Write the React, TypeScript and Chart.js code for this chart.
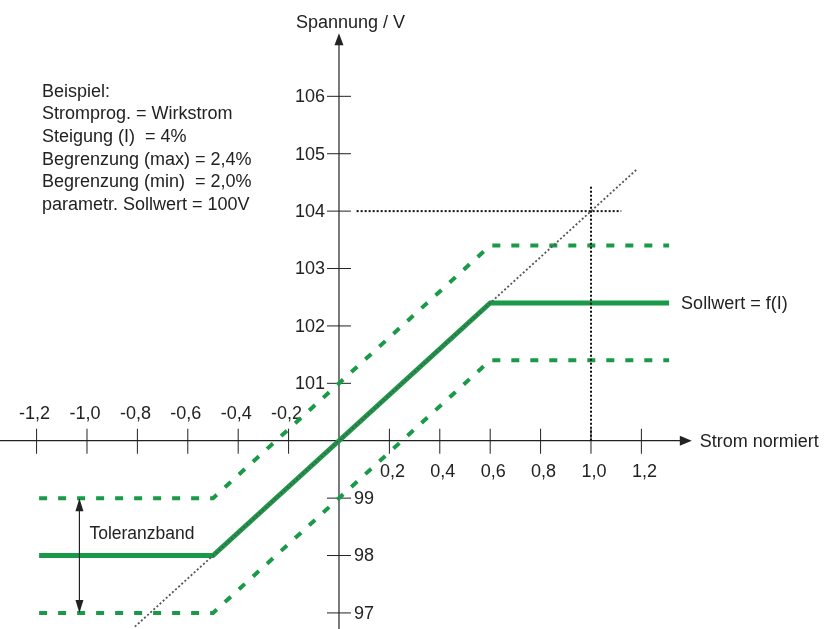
import React, { useEffect, useRef } from "react";
import { Chart, registerables } from "chart.js";

Chart.register(...registerables);

// ---- data ----
const xTickValues = [-1.2, -1.0, -0.8, -0.6, -0.4, -0.2, 0.2, 0.4, 0.6, 0.8, 1.0, 1.2];
const yTickValues = [97, 98, 99, 101, 102, 103, 104, 105, 106];

const bandX = [-1.19, -0.5, 0.6, 1.31];
const sollwertY = [98, 98, 102.4, 102.4];
const upperBandY = [99, 99, 103.4, 103.4];
const lowerBandY = [97, 97, 101.4, 101.4];

const diagonalX = [-0.81, 1.18];
const diagonalY = [96.76, 104.72];

const refHorizontalX = [0.07, 1.12];
const refHorizontalY = [104, 104];
const refVerticalX = [1.0, 1.0];
const refVerticalY = [100, 104.45];

const toleranceArrowX = -1.03;
const toleranceArrowY = [99, 97];

const infoLines = [
  "Beispiel:",
  "Stromprog. = Wirkstrom",
  "Steigung (I)  = 4%",
  "Begrenzung (max) = 2,4%",
  "Begrenzung (min)  = 2,0%",
  "parametr. Sollwert = 100V",
];

const xAxisTitle = "Strom normiert";
const yAxisTitle = "Spannung / V";
const sollwertLabel = "Sollwert = f(I)";
const toleranceLabel = "Toleranzband";

const X_MIN = -1.3452;
const X_MAX = 1.9405;
const Y_MIN = 96.72;
const Y_MAX = 107.678;
const X_AXIS_END = 1.4;
const Y_AXIS_END = 107.1;

const GREEN = "#1a9a48";
const INK = "#222222";
const FONT = '18px "Liberation Sans", Arial, sans-serif';

const pts = (xs: number[], ys: number[]) => xs.map((x, i) => ({ x, y: ys[i] }));
const fmt = (v: number) => v.toFixed(1).replace(".", ",");

const axesPlugin = {
  id: "centerAxes",
  beforeDatasetsDraw(chart: any) {
    const ctx = chart.ctx as CanvasRenderingContext2D;
    const xs = chart.scales.x;
    const ys = chart.scales.y;
    const x0 = xs.getPixelForValue(0);
    const y0 = ys.getPixelForValue(100);
    ctx.save();
    ctx.strokeStyle = INK;
    ctx.fillStyle = INK;
    ctx.lineWidth = 1.2;
    // x axis
    const xEnd = xs.getPixelForValue(X_AXIS_END);
    ctx.beginPath();
    ctx.moveTo(0, y0);
    ctx.lineTo(xEnd - 8, y0);
    ctx.stroke();
    ctx.beginPath();
    ctx.moveTo(xEnd, y0);
    ctx.lineTo(xEnd - 12, y0 - 5);
    ctx.lineTo(xEnd - 12, y0 + 5);
    ctx.closePath();
    ctx.fill();
    // y axis
    const yEnd = ys.getPixelForValue(Y_AXIS_END);
    ctx.beginPath();
    ctx.moveTo(x0, chart.height);
    ctx.lineTo(x0, yEnd + 8);
    ctx.stroke();
    ctx.beginPath();
    ctx.moveTo(x0, yEnd);
    ctx.lineTo(x0 - 4.5, yEnd + 12);
    ctx.lineTo(x0 + 4.5, yEnd + 12);
    ctx.closePath();
    ctx.fill();

    ctx.font = FONT;
    // x ticks
    ctx.lineWidth = 1;
    xTickValues.forEach((v) => {
      const px = xs.getPixelForValue(v);
      ctx.beginPath();
      ctx.moveTo(px, y0 - 12);
      ctx.lineTo(px, y0 + 13);
      ctx.stroke();
      ctx.textAlign = "center";
      ctx.textBaseline = "alphabetic";
      if (v < 0) ctx.fillText(fmt(v), px - 2, y0 - 22);
      else ctx.fillText(fmt(v), px + 3, y0 + 36);
    });
    // y ticks
    yTickValues.forEach((v) => {
      const py = ys.getPixelForValue(v);
      ctx.beginPath();
      ctx.moveTo(x0 - 12, py);
      ctx.lineTo(x0 + 12, py);
      ctx.stroke();
      ctx.textBaseline = "middle";
      if (v > 100) {
        ctx.textAlign = "right";
        ctx.fillText(String(v), x0 - 14, py + 1);
      } else {
        ctx.textAlign = "left";
        ctx.fillText(String(v), x0 + 15, py + 1);
      }
    });
    ctx.restore();
  },
  afterDraw(chart: any) {
    const ctx = chart.ctx as CanvasRenderingContext2D;
    const xs = chart.scales.x;
    const ys = chart.scales.y;
    const x0 = xs.getPixelForValue(0);
    const y0 = ys.getPixelForValue(100);
    ctx.save();
    ctx.fillStyle = INK;
    ctx.strokeStyle = INK;
    ctx.font = FONT;
    ctx.textBaseline = "alphabetic";
    ctx.textAlign = "left";
    // axis titles
    ctx.fillText(yAxisTitle, x0 - 43, 28);
    ctx.fillText(xAxisTitle, xs.getPixelForValue(X_AXIS_END) + 8, y0 + 6);
    // info block
    infoLines.forEach((line, i) => ctx.fillText(line, 42, 96.7 + i * 22.6));
    // sollwert label
    ctx.fillText(sollwertLabel, xs.getPixelForValue(bandX[3]) + 12, ys.getPixelForValue(sollwertY[3]) + 6);
    // tolerance arrow
    const ax = xs.getPixelForValue(toleranceArrowX);
    const ay1 = ys.getPixelForValue(toleranceArrowY[0]);
    const ay2 = ys.getPixelForValue(toleranceArrowY[1]);
    ctx.lineWidth = 1.2;
    ctx.beginPath();
    ctx.moveTo(ax, ay1 + 8);
    ctx.lineTo(ax, ay2 - 8);
    ctx.stroke();
    ctx.beginPath();
    ctx.moveTo(ax, ay1);
    ctx.lineTo(ax - 4, ay1 + 13);
    ctx.lineTo(ax + 4, ay1 + 13);
    ctx.closePath();
    ctx.fill();
    ctx.beginPath();
    ctx.moveTo(ax, ay2);
    ctx.lineTo(ax - 4, ay2 - 13);
    ctx.lineTo(ax + 4, ay2 - 13);
    ctx.closePath();
    ctx.fill();
    ctx.font = '17.5px "Liberation Sans", Arial, sans-serif';
    ctx.fillText(toleranceLabel, ax + 10, ys.getPixelForValue(98) - 17);
    ctx.restore();
  },
};

export default function App() {
  const canvasRef = useRef<HTMLCanvasElement | null>(null);

  useEffect(() => {
    if (!canvasRef.current) return;
    const chart = new Chart(canvasRef.current, {
      type: "scatter",
      data: {
        datasets: [
          {
            label: "Diagonale",
            data: pts(diagonalX, diagonalY),
            showLine: true,
            borderColor: "#555555",
            borderWidth: 1.8,
            borderDash: [2, 2.2],
            pointRadius: 0,
          },
          {
            label: "Ref 104",
            data: pts(refHorizontalX, refHorizontalY),
            showLine: true,
            borderColor: "#111111",
            borderWidth: 2,
            borderDash: [2, 2],
            pointRadius: 0,
          },
          {
            label: "Ref 1,0",
            data: pts(refVerticalX, refVerticalY),
            showLine: true,
            borderColor: "#111111",
            borderWidth: 2,
            borderDash: [2, 2],
            pointRadius: 0,
          },
          {
            label: "Obere Grenze",
            data: pts(bandX, upperBandY),
            showLine: true,
            borderColor: GREEN,
            borderWidth: 4,
            borderDash: [8, 11],
            pointRadius: 0,
          },
          {
            label: "Untere Grenze",
            data: pts(bandX, lowerBandY),
            showLine: true,
            borderColor: GREEN,
            borderWidth: 4,
            borderDash: [8, 11],
            pointRadius: 0,
          },
          {
            label: "Sollwert",
            data: pts(bandX, sollwertY),
            showLine: true,
            borderColor: GREEN,
            borderWidth: 5,
            pointRadius: 0,
          },
        ],
      },
      options: {
        animation: false,
        responsive: false,
        devicePixelRatio: 1,
        layout: { padding: 0 },
        plugins: {
          legend: { display: false },
          title: { display: false },
          tooltip: { enabled: false },
        },
        scales: {
          x: { type: "linear", min: X_MIN, max: X_MAX, display: false },
          y: { type: "linear", min: Y_MIN, max: Y_MAX, display: false },
        },
      },
      plugins: [axesPlugin],
    });
    return () => chart.destroy();
  }, []);

  return (
    <div style={{ position: "absolute", left: 0, top: 0, width: 828, height: 629, background: "#ffffff" }}>
      <canvas ref={canvasRef} width={828} height={629} />
    </div>
  );
}
